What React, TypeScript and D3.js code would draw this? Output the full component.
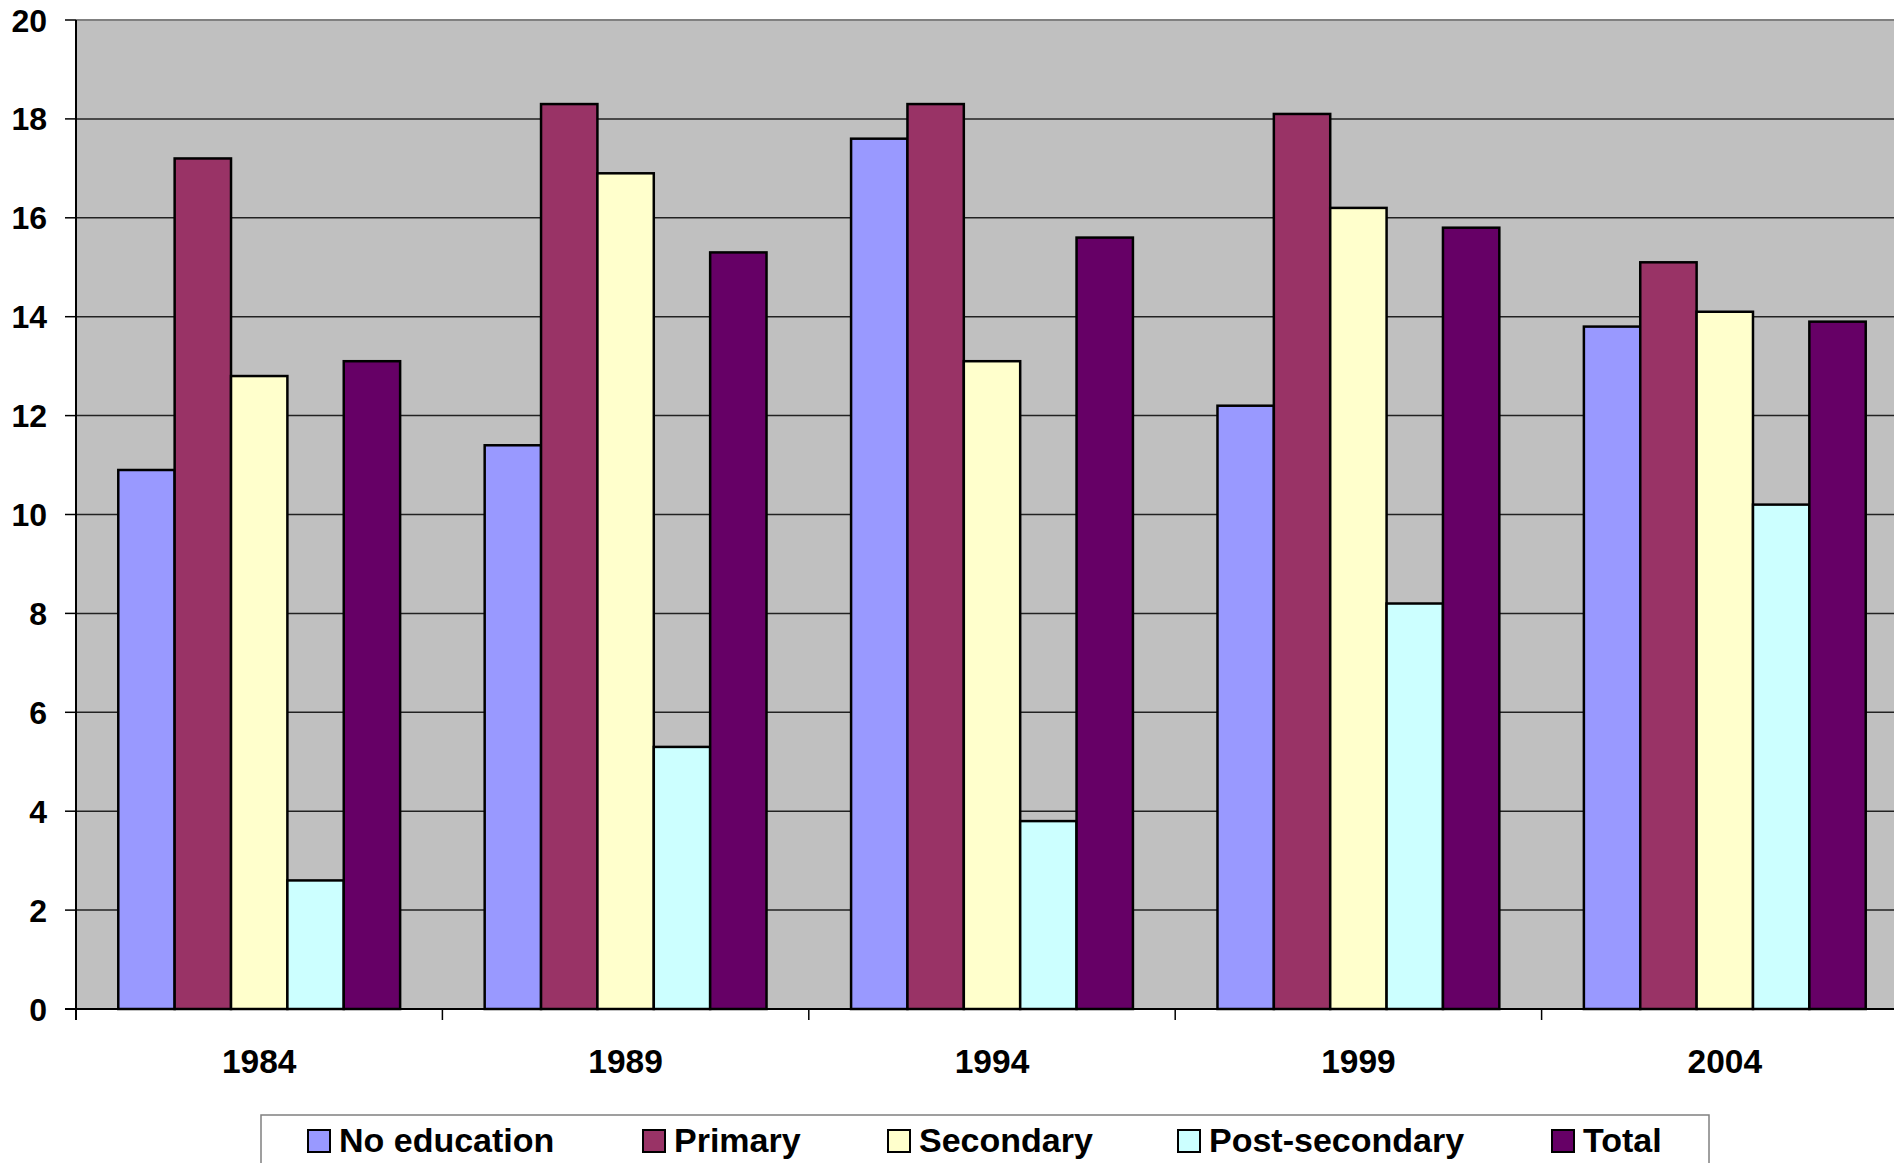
import React from "react";
import * as d3 from "d3";

const categories = ["1984", "1989", "1994", "1999", "2004"];
const seriesNames = ["No education", "Primary", "Secondary", "Post-secondary", "Total"];
const seriesColors = ["#9999FF", "#993366", "#FFFFCC", "#CCFFFF", "#660066"];
const noEducation = [10.9, 11.4, 17.6, 12.2, 13.8];
const primary = [17.2, 18.3, 18.3, 18.1, 15.1];
const secondary = [12.8, 16.9, 13.1, 16.2, 14.1];
const postSecondary = [2.6, 5.3, 3.8, 8.2, 10.2];
const total = [13.1, 15.3, 15.6, 15.8, 13.9];
const yTicks = [0, 2, 4, 6, 8, 10, 12, 14, 16, 18, 20];
const legendX = [308, 643, 888, 1178, 1552];

const seriesValues = [noEducation, primary, secondary, postSecondary, total];

export default function App() {
  const W = 1894, H = 1163;
  const left = 76, top = 20, bottom = 1009;
  const catW = 366.4;
  const x = d3.scaleBand<string>().domain(categories).range([left, left + catW * categories.length]).padding(0);
  const xi = d3.scaleBand<string>().domain(seriesNames).range([0, catW]).paddingInner(0).paddingOuter(0.75);
  const y = d3.scaleLinear().domain([0, 20]).range([bottom, top]);
  const font = "Arial, 'Liberation Sans', sans-serif";

  return (
    <svg width={W} height={H} style={{ position: "absolute", left: 0, top: 0 }} xmlns="http://www.w3.org/2000/svg">
      <rect x={0} y={0} width={W} height={H} fill="#fff" />
      <rect x={left} y={top} width={W - left} height={bottom - top} fill="#C0C0C0" />
      {yTicks.filter(t => t > 0 && t < 20).map(t => (
        <line key={t} x1={left} x2={W} y1={y(t)} y2={y(t)} stroke="#222" strokeWidth={1.5} />
      ))}
      <line x1={left} x2={W} y1={y(20)} y2={y(20)} stroke="#808080" strokeWidth={2} />
      {categories.map((c, ci) =>
        seriesNames.map((s, si) => {
          const v = seriesValues[si][ci];
          const bx = (x(c) as number) + (xi(s) as number);
          return (
            <rect key={c + s} x={bx} y={y(v)} width={xi.bandwidth()} height={y(0) - y(v)}
              fill={seriesColors[si]} stroke="#000" strokeWidth={2.5} />
          );
        })
      )}
      <line x1={left} x2={left} y1={top} y2={bottom + 11} stroke="#000" strokeWidth={2} />
      <line x1={left - 11} x2={W} y1={bottom} y2={bottom} stroke="#000" strokeWidth={2} />
      {yTicks.map(t => (
        <g key={t}>
          <line x1={left - 11} x2={left} y1={y(t)} y2={y(t)} stroke="#000" strokeWidth={1.5} />
          <text x={47} y={y(t)} dy="0.36em" textAnchor="end" fontFamily={font} fontWeight="bold" fontSize={32} fill="#000">{t}</text>
        </g>
      ))}
      {categories.map((c, ci) => (
        <g key={c}>
          {ci > 0 && <line x1={x(c) as number} x2={x(c) as number} y1={bottom} y2={bottom + 11} stroke="#000" strokeWidth={1.5} />}
          <text x={(x(c) as number) + catW / 2} y={1073} textAnchor="middle" fontFamily={font} fontWeight="bold" fontSize={33.5} fill="#000">{c}</text>
        </g>
      ))}
      <rect x={261} y={1115} width={1448} height={80} fill="#fff" stroke="#808080" strokeWidth={1.5} />
      {seriesNames.map((s, si) => (
        <g key={s}>
          <rect x={legendX[si]} y={1130} width={22} height={22} fill={seriesColors[si]} stroke="#000" strokeWidth={2} />
          <text x={legendX[si] + 31} y={1152} fontFamily={font} fontWeight="bold" fontSize={34} fill="#000">{s}</text>
        </g>
      ))}
    </svg>
  );
}
